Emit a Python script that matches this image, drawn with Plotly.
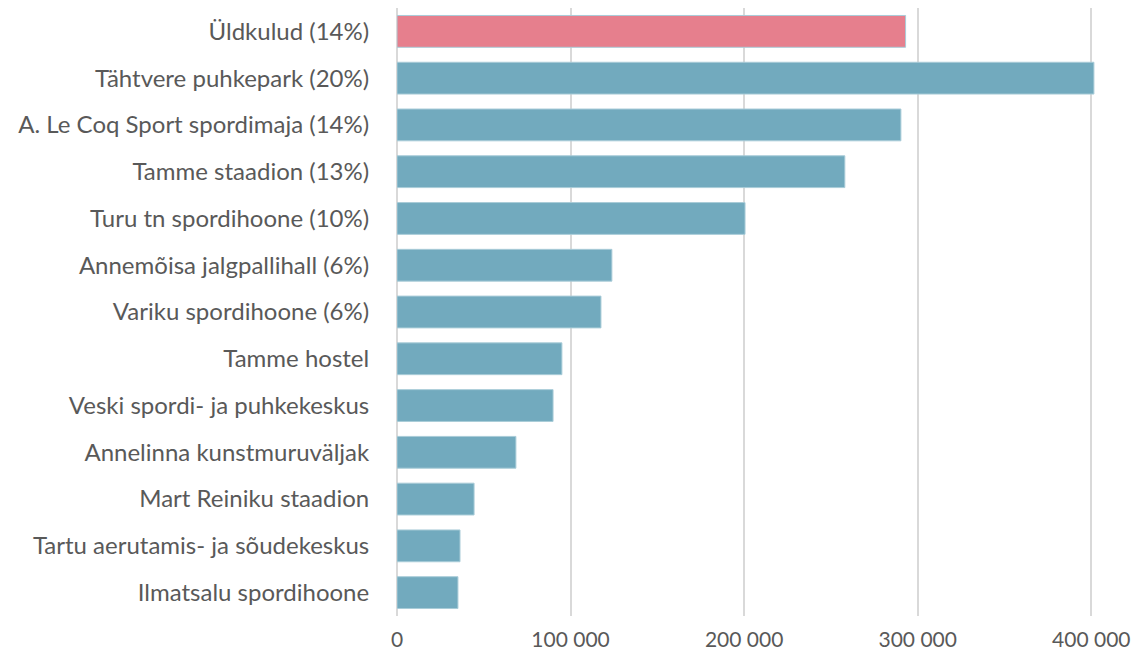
import plotly.graph_objects as go

categories = [
    "Üldkulud (14%)",
    "Tähtvere puhkepark (20%)",
    "A. Le Coq Sport spordimaja (14%)",
    "Tamme staadion (13%)",
    "Turu tn spordihoone (10%)",
    "Annemõisa jalgpallihall (6%)",
    "Variku spordihoone (6%)",
    "Tamme hostel",
    "Veski spordi- ja puhkekeskus",
    "Annelinna kunstmuruväljak",
    "Mart Reiniku staadion",
    "Tartu aerutamis- ja sõudekeskus",
    "Ilmatsalu spordihoone",
]
values = [293000, 401500, 290300, 258000, 200500, 123800, 117500, 95000, 89900, 68500, 44400, 36300, 35100]
colors = ["#E67F8D"] + ["#72AABE"] * 12
tick_vals = [0, 100000, 200000, 300000, 400000]
tick_text = ["0", "100 000", "200 000", "300 000", "400 000"]

fig = go.Figure(go.Bar(
    x=values, y=categories, orientation="h",
    marker=dict(color=colors, line=dict(color="#A9CCD8", width=1)),
    width=0.68,
))
fig.update_layout(
    width=1133, height=656,
    margin=dict(l=389, r=41, t=0, b=48),
    plot_bgcolor="white", paper_bgcolor="white",
    font=dict(family="Lato, Open Sans, sans-serif", size=24, color="#595959"),
    showlegend=False,
)
fig.update_xaxes(range=[0, 405000], tickvals=tick_vals, ticktext=tick_text,
                 showgrid=True, gridcolor="#D9D9D9", gridwidth=1.5,
                 zeroline=True, zerolinecolor="#D9D9D9", zerolinewidth=1.5,
                 tickfont=dict(size=21, color="#595959"), ticks="outside", ticklen=5, tickcolor="white")
fig.update_yaxes(autorange="reversed", categoryorder="array", categoryarray=categories,
                 ticks="outside", ticklen=22, tickcolor="white",
                 tickfont=dict(size=24, color="#595959"), showgrid=False,
                 range=[12.5, -0.5])
fig.write_html("out.html")
